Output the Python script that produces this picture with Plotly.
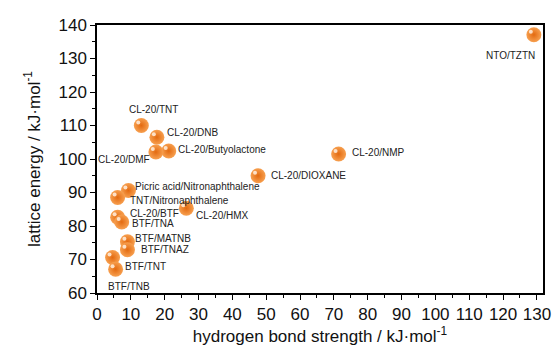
import plotly.graph_objects as go

names = ["NTO/TZTN", "CL-20/TNT", "CL-20/DNB", "CL-20/Butyolactone", "CL-20/DMF",
         "CL-20/NMP", "CL-20/DIOXANE", "Picric acid/Nitronaphthalene", "TNT/Nitronaphthalene",
         "CL-20/HMX", "CL-20/BTF", "BTF/TNA", "BTF/MATNB", "BTF/TNAZ", "BTF/TNB", "BTF/TNT"]
hb_strength = [129.1, 13.1, 17.7, 21.2, 17.4, 71.4, 47.6, 9.3, 6.1, 26.4, 6.1, 7.3, 9.0, 9.0, 4.6, 5.5]
lattice_energy = [137.1, 110.0, 106.5, 102.4, 102.1, 101.5, 95.0, 90.6, 88.5, 85.3, 82.6, 81.2, 75.3, 72.9, 70.6, 67.1]

# label placement (pixels): anchor, dx, dy (dy downward)
label_style = [("right", 3, 21), ("left", -14, -16), ("left", 8, -5), ("left", 7, -1),
               ("right", -4, 8), ("left", 11, -1), ("left", 11, 0), ("left", 5, -4),
               ("left", 10, 3), ("left", 8, 7), ("left", 10, -4), ("left", 8, 2),
               ("left", 6, -3), ("left", 12, 0), ("left", -7, 29), ("left", 7, -3)]

FONT = "Liberation Sans, Arial, sans-serif"

fig = go.Figure()
fig.add_trace(go.Scatter(
    x=hb_strength, y=lattice_energy, mode="markers",
    marker=dict(size=15, color="#F7A050",
                gradient=dict(type="radial", color="#E36A10"),
                line=dict(width=0)),
    showlegend=False, hoverinfo="text", text=names))
fig.add_trace(go.Scatter(
    x=[v - 0.9 for v in hb_strength], y=[v + 0.9 for v in lattice_energy], mode="markers",
    marker=dict(size=4, color="rgba(255,240,225,0.85)", line=dict(width=0)),
    showlegend=False, hoverinfo="skip"))

for n, xv, yv, (anc, dx, dy) in zip(names, hb_strength, lattice_energy, label_style):
    fig.add_annotation(x=xv, y=yv, text=n, showarrow=False, xanchor=anc, yanchor="middle",
                       xshift=dx, yshift=-dy, font=dict(family=FONT, size=10, color="#222"))

axis_common = dict(showline=True, linecolor="black", linewidth=1.5, mirror=True,
                   ticks="outside", ticklen=5, tickwidth=1.2, tickcolor="black",
                   showgrid=False, zeroline=False,
                   tickfont=dict(family=FONT, size=17, color="#111"),
                   minor=dict(ticks="outside", ticklen=3, tickwidth=1, tickcolor="black", showgrid=False))

fig.update_xaxes(range=[0, 131.8], tick0=0, dtick=10, minor_dtick=5,
                 title=dict(text="hydrogen bond strength / kJ·mol<sup>-1</sup>",
                            font=dict(family=FONT, size=17, color="#111"), standoff=2),
                 **axis_common)
fig.update_yaxes(range=[60, 140], tick0=60, dtick=10, minor_dtick=5,
                 title=dict(text="lattice energy / kJ·mol<sup>-1</sup>",
                            font=dict(family=FONT, size=17, color="#111"), standoff=14),
                 **axis_common)

fig.update_layout(width=560, height=347, margin=dict(l=97, r=9, t=25, b=50),
                  plot_bgcolor="white", paper_bgcolor="white")
fig.write_html("out.html")
